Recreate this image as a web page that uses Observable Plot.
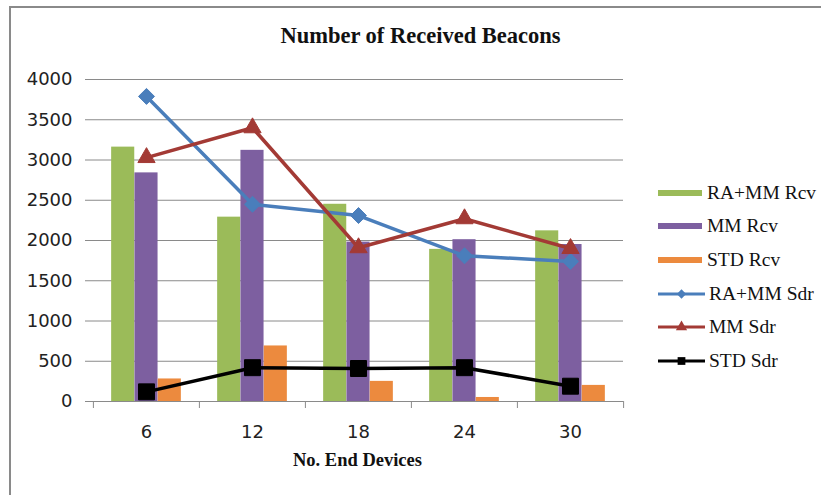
<!DOCTYPE html>
<html>
<head>
<meta charset="utf-8">
<script src="https://cdn.jsdelivr.net/npm/d3@7"></script>
<script src="https://cdn.jsdelivr.net/npm/@observablehq/plot@0.6"></script>
<style>
  html, body { margin: 0; padding: 0; background: #fff; }
  #wrap { position: relative; width: 821px; height: 495px; overflow: hidden; background: #fff; }
  #frame { position: absolute; left: 9px; top: 6px; width: 830px; height: 500px; border-left: 2px solid #8a8a8a; border-top: 2px solid #8a8a8a; box-sizing: border-box; }
  #chart { position: absolute; left: 0; top: 0; }
  #title { position: absolute; left: 0; width: 841px; top: 23px; text-align: center; font-family: "Liberation Serif", serif; font-weight: bold; font-size: 22.5px; color: #111; }
  #xtitle { position: absolute; left: 92px; width: 531px; top: 450px; text-align: center; font-family: "Liberation Serif", serif; font-weight: bold; font-size: 18.5px; color: #111; }
  #legend { position: absolute; left: 658px; top: 176px; font-family: "Liberation Serif", serif; font-size: 19.5px; color: #111; }
  .item { display: flex; align-items: center; height: 33.6px; white-space: nowrap; }
  .item svg { margin-right: 3px; }
</style>
</head>
<body>
<div id="wrap">
  <div id="frame"></div>
  <div id="chart"></div>
  <div id="title">Number of Received Beacons</div>
  <div id="xtitle">No. End Devices</div>
  <div id="legend"></div>
</div>
<script>
const categories = [6, 12, 18, 24, 30];
const yTicks = [0, 500, 1000, 1500, 2000, 2500, 3000, 3500, 4000];

const raMmRcv = [3160, 2290, 2450, 1890, 2120];
const mmRcv   = [2840, 3120, 1980, 2010, 1950];
const stdRcv  = [280, 690, 250, 50, 200];
const raMmSdr = [3790, 2450, 2310, 1810, 1740];
const mmSdr   = [3030, 3400, 1910, 2270, 1900];
const stdSdr  = [120, 420, 410, 420, 190];

const barSeries = [
  {name: "RA+MM Rcv", values: raMmRcv, color: "#9bbb59"},
  {name: "MM Rcv", values: mmRcv, color: "#7d5fa0"},
  {name: "STD Rcv", values: stdRcv, color: "#ec8a3e"}
];
const lineSeries = [
  {name: "RA+MM Sdr", values: raMmSdr, color: "#4a7ebb", symbol: "diamond2", r: 7.2},
  {name: "MM Sdr", values: mmSdr, color: "#a33a35", symbol: "triangle", r: 6.4},
  {name: "STD Sdr", values: stdSdr, color: "#000000", symbol: "square", r: 9}
];

const W = 821, H = 495;
const mL = 92, mR = W - 623, mT = 79, mB = H - 401;
const bw = (W - mL - mR) / categories.length;
const barW = 23.3;
const groupStart = (bw - 3 * barW) / 2;

const toRows = (s) => categories.map((c, i) => ({cat: c, value: s.values[i], series: s.name}));

const marks = [
  Plot.gridY(yTicks, {stroke: "#8a8a8a", strokeOpacity: 1, insetLeft: -7}),
  Plot.axisY(yTicks, {tickSize: 0, tickPadding: 20, fontSize: 18, fontFamily: "DejaVu Sans", fill: "#222", label: null, tickFormat: d => String(d)}),
  Plot.axisX({tickSize: 0, tickPadding: 24, fontSize: 18, fontFamily: "DejaVu Sans", fill: "#222", label: null}),
  Plot.axisX({tickSize: 7, stroke: "#8a8a8a", dx: -bw / 2, tickFormat: () => "", label: null}),
  Plot.axisX([categories[categories.length - 1]], {tickSize: 7, stroke: "#8a8a8a", dx: bw / 2, tickFormat: () => "", label: null})
];

barSeries.forEach((s, k) => {
  const left = groupStart + k * barW;
  marks.push(Plot.barY(toRows(s), {
    x: "cat", y: "value", fill: s.color,
    insetLeft: left, insetRight: bw - left - barW
  }));
});
marks.push(Plot.ruleY([0], {stroke: "#8a8a8a"}));
lineSeries.forEach(s => {
  marks.push(Plot.line(toRows(s), {x: "cat", y: "value", stroke: s.color, strokeWidth: 3.5}));
});
lineSeries.forEach(s => {
  marks.push(Plot.dot(toRows(s), {x: "cat", y: "value", symbol: () => s.symbol, fill: s.color, stroke: s.color, strokeWidth: 1, r: s.r}));
});

const chart = Plot.plot({
  width: W, height: H,
  marginLeft: mL, marginRight: mR, marginTop: mT, marginBottom: mB,
  style: {background: "transparent", overflow: "visible"},
  x: {type: "band", domain: categories, padding: 0, axis: null},
  y: {domain: [0, 4000], axis: null},
  symbol: {type: "identity"},
  marks
});
document.getElementById("chart").appendChild(chart);

// legend
const legend = document.getElementById("legend");
barSeries.forEach(s => {
  const div = document.createElement("div"); div.className = "item";
  div.innerHTML = `<svg width="46" height="12"><rect x="0" y="3" width="44" height="6" fill="${s.color}"/></svg><span>${s.name}</span>`;
  legend.appendChild(div);
});
lineSeries.forEach(s => {
  const div = document.createElement("div"); div.className = "item";
  const sym = d3.symbol(s.symbol === "diamond2" ? d3.symbolDiamond2 : s.symbol === "triangle" ? d3.symbolTriangle : d3.symbolSquare, s.symbol === "square" ? 60 : 55)();
  div.innerHTML = `<svg width="48" height="14"><line x1="0" x2="47" y1="7" y2="7" stroke="${s.color}" stroke-width="3"/><path d="${sym}" transform="translate(23.5,7)" fill="${s.color}"/></svg><span>${s.name}</span>`;
  legend.appendChild(div);
});
</script>
</body>
</html>
